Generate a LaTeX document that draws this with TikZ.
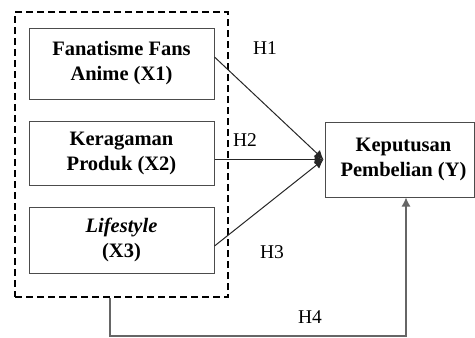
\documentclass[tikz,border=0pt]{standalone}
\usepackage{fontspec}
\setmainfont{Liberation Serif}
\usetikzlibrary{arrows.meta}
\begin{document}
\begin{tikzpicture}[x=1pt,y=-1pt,
  font=\fontsize{19.5}{25}\selectfont,
  varbox/.style={draw=black!70, line width=1pt, minimum width=185pt, align=center, font=\fontsize{20.5}{25}\selectfont\bfseries, inner sep=0pt},
  grpbox/.style={draw=black, line width=1.5pt, dash pattern=on 7pt off 4pt, minimum width=213pt, minimum height=285pt, inner sep=0pt},
  conn/.style={draw=black!85, line width=1pt, -{Latex[length=9pt,width=9pt]}},
  feed/.style={draw=black!60, line width=1.2pt, -{Latex[length=9pt,width=9pt]}},
  hlab/.style={inner sep=0pt}]
\useasboundingbox (0,0) rectangle (475,338);
\node[grpbox] (grp) at (121.5,154.5) {};
\node[varbox, minimum height=71pt] (x1) at (121.5,63.5) {Fanatisme Fans\\Anime (X1)};
\node[varbox, minimum height=64pt] (x2) at (121.5,153) {Keragaman\\Produk (X2)};
\node[varbox, minimum height=66pt] (x3) at (121.5,240) {\textit{Lifestyle}\\(X3)};
\node[varbox, minimum width=149pt, minimum height=75pt] (y) at (399.5,159.5) {\hspace*{8pt}Keputusan\\\hspace*{8pt}Pembelian (Y)};
\coordinate (m) at ([xshift=-1pt]y.west);
\draw[conn] ([yshift=6.5pt]x1.east) -- (m);
\draw[conn] (x2.east |- m) -- (m);
\draw[conn] ([yshift=-6pt]x3.east) -- (m);
\coordinate (b0) at ([xshift=-11.5pt]grp.south);
\coordinate (b1) at (110,336);
\coordinate (b2) at (406,336);
\draw[feed] (b0) -- (b1) -- (b2) -- (b2 |- y.south);
\node[hlab] (h1) at (265,48) {H1};
\node[hlab] (h2) at (245,140) {H2};
\node[hlab] (h3) at (272,252) {H3};
\node[hlab] (h4) at (310,317) {H4};
\end{tikzpicture}
\end{document}
